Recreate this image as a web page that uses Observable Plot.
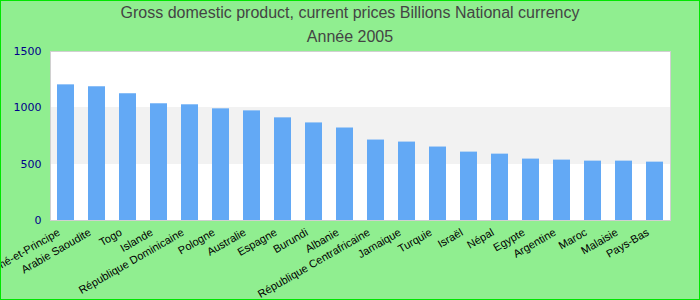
<!DOCTYPE html>
<html><head><meta charset="utf-8">
<script src="https://cdn.jsdelivr.net/npm/d3@7"></script>
<script src="https://cdn.jsdelivr.net/npm/@observablehq/plot@0.6"></script>
<style>
body{margin:0}
#wrap{width:700px;height:300px;box-sizing:border-box;border:1px solid #00e600;background:#90ee90;font-family:"Liberation Sans",Arial,sans-serif;overflow:hidden}
#title{height:44px;text-align:center;color:#444;font-size:16px;line-height:24px;padding-top:0}
</style></head><body>
<div id="wrap"><div id="title"><div>Gross domestic product, current prices Billions National currency</div><div>Année 2005</div></div><div id="chart"></div></div>
<script>
const countries = ["São Tomé-et-Principe","Arabie Saoudite","Togo","Islande","République Dominicaine","Pologne","Australie","Espagne","Burundi","Albanie","République Centrafricaine","Jamaique","Turquie","Israël","Népal","Egypte","Argentine","Maroc","Malaisie","Pays-Bas"];
const values = [1204,1187,1125,1036,1027,991,973,911,866,821,714,696,652,607,589,545,536,527,527,518];
const yTicks = [0,500,1000,1500];

const data = countries.map((c,i)=>({country:c, value:values[i]}));
const bands = d3.pairs(yTicks).map(([a,b],i)=>({y1:a,y2:b,i}));

const chart = Plot.plot({
  width:698, height:254,
  marginTop:6, marginBottom:79, marginLeft:49, marginRight:29,
  style:{background:"transparent", fontFamily:"Liberation Sans, Arial, sans-serif", fontSize:"11px", overflow:"visible"},
  x:{domain:countries, paddingInner:0.45, paddingOuter:0.225, label:null},
  y:{domain:[0,1500], ticks:yTicks, label:null},
  marks:[
    Plot.rect(bands,{y1:"y1",y2:"y2",fill:d=>d.i%2?"#f2f2f2":"white", shapeRendering:"crispEdges"}),
    Plot.barY(data,{x:"country",y:"value",fill:"#63a9f5"}),
    Plot.frame({stroke:"#d0d0d0"}),
    Plot.axisY({ticks:yTicks, tickFormat:d3.format("d"), tickSize:0, tickPadding:9, fill:"#00008b", fontFamily:"DejaVu Sans", fontSize:11, label:null}),
    Plot.axisX({tickSize:0, tickPadding:8, tickRotate:-30, dx:-7, dy:3, fill:"black", fontSize:11, label:null})
  ]
});
document.getElementById("chart").appendChild(chart);
</script>
</body></html>
